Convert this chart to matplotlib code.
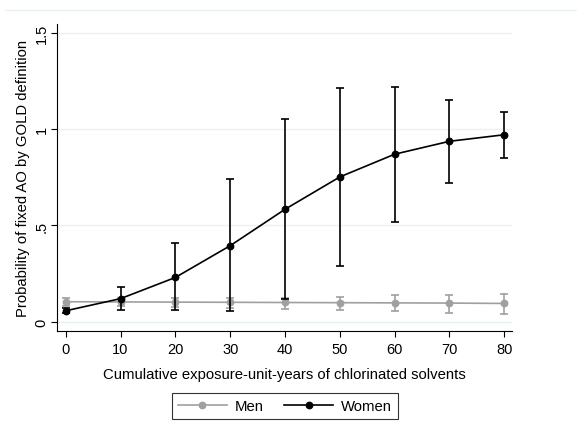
import matplotlib
matplotlib.use("Agg")
import matplotlib.pyplot as plt
from matplotlib.lines import Line2D

plt.rcParams['font.family'] = ['Liberation Sans', 'DejaVu Sans']

exposure = [0, 10, 20, 30, 40, 50, 60, 70, 80]
men = [0.104, 0.103, 0.102, 0.101, 0.100, 0.099, 0.098, 0.097, 0.095]
men_lo = [0.083, 0.081, 0.078, 0.073, 0.066, 0.061, 0.054, 0.045, 0.038]
men_hi = [0.123, 0.124, 0.122, 0.121, 0.122, 0.130, 0.137, 0.140, 0.144]
women = [0.057, 0.120, 0.230, 0.395, 0.584, 0.752, 0.870, 0.937, 0.971]
women_lo = [0.045, 0.062, 0.061, 0.054, 0.118, 0.291, 0.520, 0.722, 0.852]
women_hi = [0.072, 0.180, 0.407, 0.741, 1.053, 1.212, 1.218, 1.152, 1.089]
yticks = [0, 0.5, 1, 1.5]
yticklabels = ['0', '.5', '1', '1.5']

fig = plt.figure(figsize=(5.77, 4.27), dpi=100)
W, H = 577, 427
ax = fig.add_axes([57 / W, 1 - 332 / H, (512 - 57) / W, (332 - 25) / H])

# faint outer border line at top
fig.add_artist(Line2D([5 / W, 1], [1 - 10.5 / H] * 2, color='#eaf2f3', lw=1.0))

grey = '#a0a0a0'
ax.errorbar(exposure, men, yerr=[[m - l for m, l in zip(men, men_lo)], [h - m for m, h in zip(men, men_hi)]],
            fmt='none', ecolor=grey, elinewidth=1.2, capsize=2.6, capthick=1.2, zorder=2)
ax.plot(exposure, men, color=grey, lw=1.2, marker='o', ms=4.6, zorder=3)
ax.errorbar(exposure, women, yerr=[[w - l for w, l in zip(women, women_lo)], [h - w for w, h in zip(women, women_hi)]],
            fmt='none', ecolor='black', elinewidth=1.2, capsize=2.6, capthick=1.2, zorder=4)
ax.plot(exposure, women, color='black', lw=1.2, marker='o', ms=4.6, zorder=5)

ax.set_xlim(-1.59, 81.4)
ax.set_ylim(-0.048, 1.546)
ax.set_xticks(exposure)
ax.set_yticks(yticks)
ax.set_yticklabels(yticklabels, rotation=90, va='center')
for t in yticks:
    ax.axhline(t, color='#eaf2f3', lw=1.0, zorder=0)
for s in ['top', 'right']:
    ax.spines[s].set_visible(False)
for s in ['left', 'bottom']:
    ax.spines[s].set_linewidth(0.8)
ax.tick_params(direction='out', length=4, width=0.8, labelsize=10.5)
ax.tick_params(axis='y', pad=2)
ax.tick_params(axis='x', pad=4)
ax.set_xlabel('Cumulative exposure-unit-years of chlorinated solvents', fontsize=10.7, labelpad=8)
ax.set_ylabel('Probability of fixed AO by GOLD definition', fontsize=10.7, labelpad=3)

handles = [Line2D([], [], color=grey, marker='o', ms=4.6, lw=1.2),
           Line2D([], [], color='black', marker='o', ms=4.6, lw=1.2)]
leg = fig.legend(handles, ['Men', 'Women'], loc='center', bbox_to_anchor=(285 / W, 1 - 407 / H), ncol=2,
                 frameon=True, fancybox=False, edgecolor='black', fontsize=10.7, handlelength=3.3,
                 handletextpad=0.55, columnspacing=1.35, borderpad=0.4, borderaxespad=0)
leg.get_frame().set_linewidth(0.8)

fig.savefig('out.png', dpi=100, facecolor='white')
